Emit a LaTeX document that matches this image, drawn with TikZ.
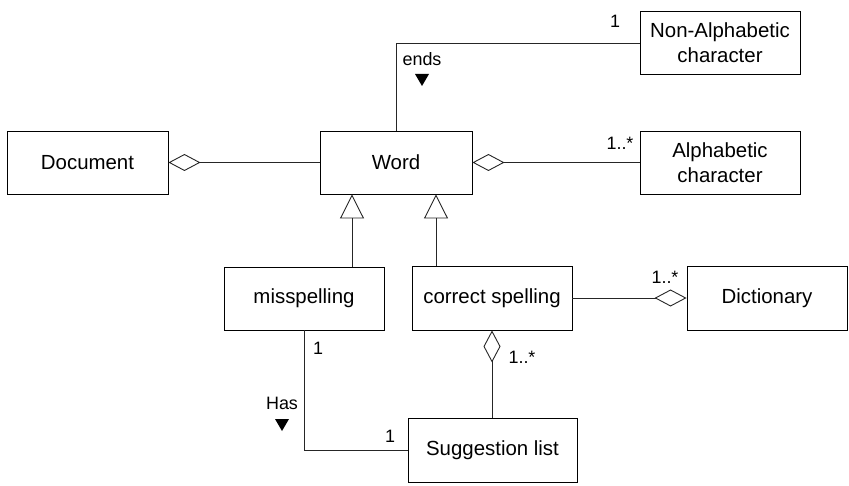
\documentclass[tikz,border=0pt]{standalone}
\usepackage{fontspec}
\setmainfont{Liberation Sans}
\usetikzlibrary{arrows.meta}
\begin{document}
\begin{tikzpicture}[x=1bp,y=-1bp,
  cls/.style={draw, line width=0.9bp, minimum height=63bp, inner sep=0pt, align=center, font=\fontsize{20.5}{25}\selectfont},
  lbl/.style={font=\fontsize{18}{20}\selectfont, inner sep=0pt},
  conn/.style={line width=0.9bp, draw=black!85},
  agg/.style={conn, -{Diamond[open, length=32bp, width=17bp, line width=0.9bp]}},
  gen/.style={conn, -{Triangle[open, length=24bp, width=24bp, line width=0.9bp]}}]
\useasboundingbox (0,0) rectangle (849,486);
% classes
\node[cls, minimum width=160bp] (nonalpha) at (720,42.5) {Non-Alphabetic\\character};
\node[cls, minimum width=160bp] (alpha) at (720,162.5) {Alphabetic\\character};
\node[cls, minimum width=152bp] (word) at (396,162.5) {Word};
\node[cls, minimum width=161bp] (doc) at (87.5,162.5) {Document};
\node[cls, minimum width=160bp, minimum height=63bp] (miss) at (304,298.5) {misspelling};
\node[cls, minimum width=160bp, minimum height=64bp] (corr) at (492,298) {correct spelling};
\node[cls, minimum width=160bp, minimum height=64bp] (dict) at (767,298) {Dictionary};
\node[cls, minimum width=169bp, minimum height=64bp] (sugg) at (492.5,450) {Suggestion list};
% connectors
\coordinate (endsbend) at (396,43);
\draw[conn] (word.north) -- (endsbend) -- (nonalpha.west |- endsbend);
\draw[agg] (word.west) -- (doc.east);
\draw[agg] (alpha.west) -- (word.east);
\draw[gen] (miss.north -| 352,0) -- (word.south -| 352,0);
\draw[gen] (corr.north -| 436,0) -- (word.south -| 436,0);
\draw[agg] (corr.east) -- (dict.west |- corr.east);
\draw[agg] (sugg.north -| corr.south) -- (corr.south);
\coordinate (hasbend) at (304,450);
\draw[conn] (miss.south) -- (hasbend) -- (sugg.west);
% labels
\node[lbl] (m1) at (615,21) {1};
\node[lbl] (ends) at (422,59) {ends};
\fill (415,74) -- (429,74) -- (422,86) -- cycle;
\node[lbl] (m2) at (620,143) {1..*};
\node[lbl] (m3) at (318,348) {1};
\node[lbl] (has) at (282,403) {Has};
\fill (275,419) -- (289,419) -- (282,431) -- cycle;
\node[lbl] (m4) at (390,436) {1};
\node[lbl] (m5) at (522,357) {1..*};
\node[lbl] (m6) at (665,277) {1..*};
\end{tikzpicture}
\end{document}
